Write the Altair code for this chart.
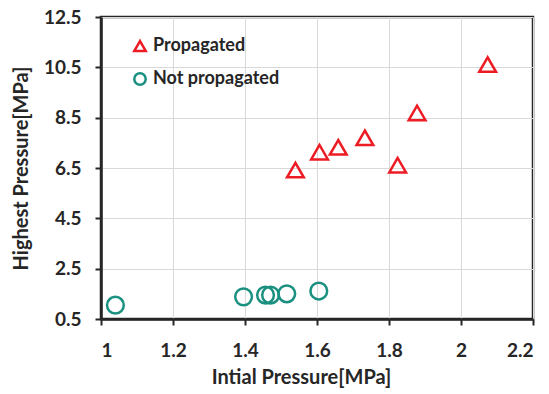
import altair as alt
import pandas as pd

# Propagated (triangles)
prop_x = [1.540, 1.607, 1.659, 1.733, 1.824, 1.878, 2.074]
prop_y = [6.42, 7.13, 7.32, 7.70, 6.61, 8.69, 10.61]
# Not propagated (circles)
not_x = [1.040, 1.396, 1.457, 1.471, 1.516, 1.605]
not_y = [1.05, 1.38, 1.45, 1.45, 1.50, 1.61]

groups = ["Propagated", "Not propagated"]
colors = ["#ED1C24", "#1A9080"]
shapes = ["triangle-up", "circle"]
x_ticks = [1, 1.2, 1.4, 1.6, 1.8, 2, 2.2]
y_ticks = [0.5, 2.5, 4.5, 6.5, 8.5, 10.5, 12.5]

df = pd.DataFrame({
    "x": prop_x + not_x,
    "y": prop_y + not_y,
    "group": [groups[0]] * len(prop_x) + [groups[1]] * len(not_x),
})

FONT = "Lato"
DARK = "#262626"

legend = alt.Legend(
    title=None, orient="none", legendX=30, legendY=20,
    symbolSize=130, symbolStrokeWidth=2.5, symbolFillColor="transparent",
    labelFont=FONT, labelFontSize=18, labelFontWeight="bold", labelColor=DARK,
    labelOffset=4, rowPadding=12,
)

chart = alt.Chart(df).mark_point(filled=False, strokeWidth=2.5, size=280, opacity=1).encode(
    x=alt.X("x:Q",
            scale=alt.Scale(domain=[1, 2.2], nice=False, zero=False),
            axis=alt.Axis(values=x_ticks, format="~g", title="Intial Pressure[MPa]",
                          labelPadding=16, titleX=200, titleY=58, titleBaseline="middle",
                          titleAnchor="start", titleAlign="center")),
    y=alt.Y("y:Q",
            scale=alt.Scale(domain=[0.5, 12.5], nice=False, zero=False),
            axis=alt.Axis(values=y_ticks, format=".1f", title="Highest Pressure[MPa]",
                          labelPadding=14, titleX=-80, titleY=151, titleBaseline="middle",
                          titleAlign="center", titleAngle=270)),
    color=alt.Color("group:N", scale=alt.Scale(domain=groups, range=colors), legend=legend),
    shape=alt.Shape("group:N", scale=alt.Scale(domain=groups, range=shapes), legend=legend),
).properties(
    width=432, height=302,
    background="white",
    autosize=alt.AutoSizeParams(type="none"),
    padding={"left": 101, "top": 17, "right": 16, "bottom": 75},
).configure_view(
    stroke=DARK, strokeWidth=2.5,
).configure_axis(
    grid=True, gridColor="#D9D9D9", gridWidth=1,
    domainColor=DARK, domainWidth=2.5,
    tickColor=DARK, tickWidth=2, tickSize=6,
    labelFont=FONT, labelFontSize=19, labelFontWeight="bold", labelColor=DARK,
    titleFont=FONT, titleFontSize=20, titleFontWeight="bold", titleColor=DARK,
)

chart.save("out.html", embed_options={"renderer": "svg", "actions": False})
